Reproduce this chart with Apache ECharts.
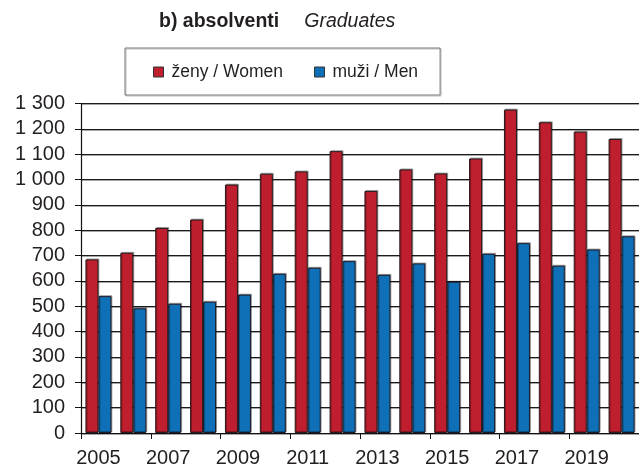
<!DOCTYPE html>
<html>
<head>
<meta charset="utf-8">
<style>
  html, body { margin: 0; padding: 0; background: #fff; }
  #chart { width: 639px; height: 468px; }
</style>
<script src="https://cdn.jsdelivr.net/npm/echarts@6/dist/echarts.min.js"></script>
</head>
<body>
<div id="chart"></div>
<script>
  // roky
  var years = ['2005', '2006', '2007', '2008', '2009', '2010', '2011', '2012',
    '2013', '2014', '2015', '2016', '2017', '2018', '2019', '2020'];
  // ženy / Women
  var women = [685, 711, 809, 842, 980, 1023, 1032, 1112, 955, 1040, 1024, 1083, 1276, 1226, 1189, 1160];
  // muži / Men
  var men = [540, 492, 510, 518, 546, 628, 652, 678, 624, 669, 597, 707, 749, 660, 724, 776];

  var fontFam = '"Liberation Sans", Arial, sans-serif';
  var chart = echarts.init(document.getElementById('chart'));

  chart.setOption({
    animation: false,
    textStyle: { fontFamily: fontFam },
    title: {
      text: '{b|b) absolventi}     {i|Graduates}',
      left: 154,
      top: 7,
      textStyle: {
        rich: {
          b: { fontSize: 19.5, fontWeight: 'bold', color: '#231f20', fontFamily: fontFam },
          i: { fontSize: 19.5, fontWeight: 'normal', fontStyle: 'italic', color: '#231f20', fontFamily: fontFam }
        }
      }
    },
    legend: {
      left: 125,
      top: 48,
      padding: [15, 22, 14, 28],
      borderColor: '#777',
      borderWidth: 1,
      shadowColor: 'rgba(0,0,0,0.25)',
      shadowOffsetX: 1,
      shadowOffsetY: 1,
      icon: 'rect',
      itemWidth: 10,
      itemHeight: 10,
      itemGap: 31,
      itemStyle: { borderColor: '#333', borderWidth: 1 },
      textStyle: { fontSize: 17.5, color: '#231f20', padding: [0, 0, 0, 3] },
      data: ['ženy / Women', 'muži / Men']
    },
    grid: {
      left: 81,
      top: 103.5,
      bottom: 34,
      right: -7
    },
    xAxis: {
      type: 'category',
      data: years,
      axisLine: { lineStyle: { color: '#111', width: 1.2 } },
      axisTick: { show: true, length: 6, lineStyle: { color: '#111' } },
      axisLabel: { interval: 1, fontSize: 20, color: '#231f20', margin: 15 }
    },
    yAxis: {
      type: 'value',
      min: 0,
      max: 1300,
      interval: 100,
      axisLine: { show: true, lineStyle: { color: '#111', width: 1.2 } },
      axisTick: { show: true, length: 6, lineStyle: { color: '#111' } },
      axisLabel: {
        fontSize: 20,
        color: '#231f20',
        margin: 16,
        formatter: function (v) {
          return String(v).replace(/\B(?=(\d{3})+(?!\d))/g, ' ');
        }
      },
      splitLine: {
        lineStyle: {
          color: '#1a1a1a',
          width: 1,
          shadowColor: 'rgba(0,0,0,0.35)',
          shadowOffsetY: 1
        }
      }
    },
    series: [
      {
        name: 'ženy / Women',
        type: 'bar',
        data: women,
        barWidth: 13,
        barGap: '0%',
        itemStyle: {
          color: '#be1e2d',
          borderColor: '#2a1a1a',
          borderWidth: 1,
          shadowColor: 'rgba(0,0,0,0.3)',
          shadowOffsetX: 1,
          shadowOffsetY: -1
        }
      },
      {
        name: 'muži / Men',
        type: 'bar',
        data: men,
        barWidth: 13,
        barGap: '0%',
        itemStyle: {
          color: '#0f70b7',
          borderColor: '#1a1a2a',
          borderWidth: 1,
          shadowColor: 'rgba(0,0,0,0.3)',
          shadowOffsetX: 1,
          shadowOffsetY: -1
        }
      }
    ]
  });
</script>
</body>
</html>
